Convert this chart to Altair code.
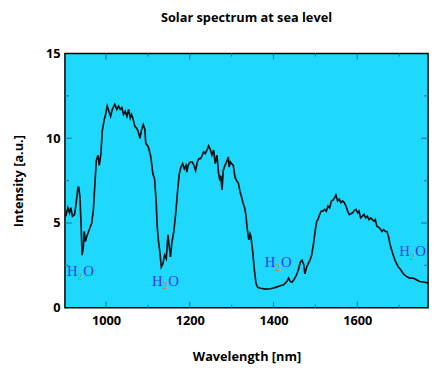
import altair as alt
import pandas as pd

wavelength = [904, 909, 913, 916, 920, 925, 929, 933, 935, 938, 941, 943, 946, 948, 951, 954, 960, 966, 970, 974,
              977, 981, 984, 988, 991, 995, 999, 1003, 1007, 1011, 1015, 1021, 1026, 1030, 1034, 1038, 1042, 1046,
              1050, 1054, 1058, 1061, 1065, 1069, 1073, 1077, 1081, 1085, 1089, 1093, 1095, 1101, 1107, 1112, 1116,
              1120, 1122, 1125, 1129, 1132, 1136, 1140, 1144, 1148, 1151, 1154, 1157, 1162, 1167, 1171, 1175, 1179,
              1183, 1187, 1191, 1193, 1196, 1201, 1206, 1210, 1214, 1218, 1222, 1226, 1230, 1233, 1237, 1241, 1245,
              1249, 1253, 1257, 1261, 1265, 1269, 1272, 1274, 1277, 1280, 1284, 1288, 1292, 1294, 1297, 1300, 1304,
              1308, 1312, 1316, 1320, 1324, 1327, 1331, 1334, 1337, 1341, 1344, 1346, 1350, 1354, 1358, 1362, 1369,
              1381, 1393, 1405, 1416, 1424, 1432, 1436, 1440, 1444, 1450, 1456, 1460, 1464, 1468, 1472, 1475, 1479,
              1483, 1487, 1491, 1495, 1499, 1503, 1506, 1510, 1514, 1518, 1522, 1526, 1530, 1534, 1538, 1542, 1545,
              1549, 1553, 1557, 1561, 1565, 1569, 1573, 1577, 1581, 1585, 1589, 1593, 1597, 1601, 1604, 1608, 1612,
              1616, 1620, 1624, 1628, 1632, 1636, 1640, 1643, 1647, 1651, 1655, 1659, 1663, 1667, 1671, 1675, 1678,
              1682, 1686, 1690, 1694, 1698, 1702, 1710, 1717, 1725, 1733, 1741, 1749, 1761, 1771]
intensity = [5.4, 5.9, 5.6, 5.9, 5.4, 5.5, 6.2, 7.1, 7.1, 6.5, 4.6, 3.1, 3.6, 4.5, 3.9, 4.2, 4.6, 5.0, 5.8, 7.5,
             8.7, 9.0, 8.4, 9.1, 10.4, 11.0, 11.4, 11.9, 11.6, 11.3, 11.7, 12.0, 11.7, 11.9, 11.7, 11.8, 11.4, 11.6,
             11.3, 11.7, 11.2, 11.4, 11.1, 10.7, 10.6, 10.4, 10.0, 10.5, 10.8, 10.5, 9.7, 9.5, 8.9, 7.9, 7.6,
             6.2, 4.9, 4.0, 3.2, 2.4, 2.6, 3.1, 2.9, 4.3, 3.6, 3.0, 3.8, 4.5, 5.7, 6.9, 7.9, 8.3,
             8.5, 8.2, 8.4, 8.0, 8.4, 8.6, 8.6, 8.4, 8.1, 8.6, 8.8, 8.8, 9.0, 9.2, 9.1, 9.3, 9.55,
             9.35, 9.0, 9.3, 8.5, 9.0, 7.9, 7.5, 7.8, 6.95, 8.1, 8.4, 8.6, 8.9, 8.3, 8.6, 8.5, 8.4,
             7.7, 7.5, 7.35, 6.85, 6.5, 6.2, 5.9, 5.5, 4.7, 4.0, 4.35, 4.2, 3.4, 2.3, 1.45, 1.2, 1.15,
             1.1, 1.12, 1.2, 1.3, 1.35, 1.55, 1.75, 1.55, 1.5, 1.7, 2.0, 2.3, 2.7, 2.8, 2.55, 2.0, 2.4,
             2.6, 2.8, 3.1, 3.7, 4.45, 5.1, 5.2, 5.5, 5.7, 5.7, 5.8, 5.7, 6.0, 5.9, 6.3, 6.35, 6.45,
             6.65, 6.3, 6.4, 6.2, 6.3, 6.2, 6.0, 5.7, 5.5, 5.55, 5.6, 5.75, 5.8, 5.6, 5.7, 5.3, 5.4,
             5.5, 5.3, 5.4, 5.2, 5.3, 5.2, 5.1, 5.2, 4.8, 4.75, 4.65, 4.5, 4.6, 4.5, 4.5, 4.15, 3.75,
             3.4, 3.1, 2.8, 2.6, 2.4, 2.3, 2.0, 1.85, 1.75, 1.75, 1.65, 1.55, 1.5, 1.45]

label_wavelength = [907, 1110, 1379, 1700]
label_intensity = [2.15, 1.6, 2.7, 3.35]

x_major = [1000, 1200, 1400, 1600]
x_minor = [1100, 1300, 1500, 1700]
y_major = [5, 10]
y_minor = [2.5, 7.5, 12.5]

W, H = 370, 259
BG = "#1fd8fe"
TICK = "#1b7f9c"
FONT = "Open Sans"

spec = pd.DataFrame({"wl": wavelength, "I": intensity})
labels = pd.DataFrame({"wl": label_wavelength, "I": label_intensity})
xmaj = pd.DataFrame({"wl": x_major})
xmin = pd.DataFrame({"wl": x_minor})
ymaj = pd.DataFrame({"I": y_major})
ymin = pd.DataFrame({"I": y_minor})

xscale = alt.Scale(domain=[902, 1769], nice=False, zero=False)
yscale = alt.Scale(domain=[0, 15], nice=False)

xenc = alt.X("wl:Q", scale=xscale,
             axis=alt.Axis(title="Wavelength [nm]", values=x_major, ticks=False, domain=False, grid=False,
                           format="d", labelPadding=7, titlePadding=24))
yenc = alt.Y("I:Q", scale=yscale,
             axis=alt.Axis(title="Intensity [a.u.]", values=[0, 5, 10, 15], ticks=False, domain=False,
                           grid=False, labelPadding=5, titlePadding=20))

line = alt.Chart(spec).mark_line(color="#111111", strokeWidth=1.7, clip=True).encode(x=xenc, y=yenc)

def xticks(df, length):
    bot = alt.Chart(df).mark_rule(color=TICK, strokeWidth=1.2).encode(
        x=alt.X("wl:Q", scale=xscale), y=alt.value(H), y2=alt.value(H - length))
    top = alt.Chart(df).mark_rule(color=TICK, strokeWidth=1.2).encode(
        x=alt.X("wl:Q", scale=xscale), y=alt.value(0), y2=alt.value(length))
    return [bot, top]

def yticks(df, length):
    left = alt.Chart(df).mark_rule(color=TICK, strokeWidth=1.2).encode(
        y=alt.Y("I:Q", scale=yscale), x=alt.value(0), x2=alt.value(length))
    right = alt.Chart(df).mark_rule(color=TICK, strokeWidth=1.2).encode(
        y=alt.Y("I:Q", scale=yscale), x=alt.value(W), x2=alt.value(W - length))
    return [left, right]

tick_layers = xticks(xmaj, 6) + xticks(xmin, 3) + yticks(ymaj, 7) + yticks(ymin, 4)

lx = alt.X("wl:Q", scale=xscale)
ly = alt.Y("I:Q", scale=yscale)
t_h = alt.Chart(labels).mark_text(text="H", font="Liberation Serif", fontSize=15, color="#3a3ae6",
                                  align="left", baseline="middle").encode(x=lx, y=ly)
t_2 = alt.Chart(labels).mark_text(text="2", font="Liberation Serif", fontSize=10, color="#d9822b",
                                  align="left", baseline="middle", dx=11, dy=6).encode(x=lx, y=ly)
t_o = alt.Chart(labels).mark_text(text="O", font="Liberation Serif", fontSize=15, color="#3a3ae6",
                                  align="left", baseline="middle", dx=16.5).encode(x=lx, y=ly)

chart = alt.layer(*tick_layers, line, t_h, t_2, t_o).properties(
    width=W, height=H,
    background="white",
    title=alt.TitleParams("Solar spectrum at sea level", font=FONT, fontSize=13, fontWeight="bold",
                          color="black", offset=23, anchor="middle"),
    autosize=alt.AutoSizeParams(type="none"),
    padding={"left": 58, "top": 43, "right": 4, "bottom": 56},
).configure_view(
    fill=BG, stroke="black", strokeWidth=1.5
).configure_axis(
    labelFont=FONT, labelFontSize=13, labelFontWeight="bold", labelColor="black",
    titleFont=FONT, titleFontSize=13, titleFontWeight="bold", titleColor="black"
)

chart.save("out.html", embed_options={"renderer": "svg", "actions": False})
